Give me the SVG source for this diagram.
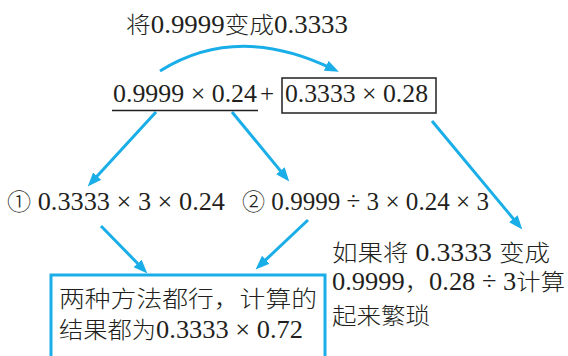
<svg xmlns="http://www.w3.org/2000/svg" width="568" height="356" viewBox="0 0 568 356">
<defs>
<style>
.t{font-family:"Liberation Serif","Times New Roman","DejaVu Serif",serif;font-size:25px;fill:#231f20}
.c{font-family:"Noto Sans CJK SC","Noto Sans CJK JP",sans-serif;font-weight:300;font-size:23px}
.a{fill:none;stroke:#1aaee8;stroke-width:3}
</style>
<marker id="ah" markerUnits="userSpaceOnUse" markerWidth="15" markerHeight="12" refX="6" refY="5.5" orient="auto">
<path d="M0,0 L14,5.5 L0,11 z" fill="#1aaee8"/>
</marker>
</defs>
<rect width="568" height="356" fill="#fff"/>
<g id="connectors">
<path class="a" d="M160,71 Q237,23 331.6,68.4" marker-end="url(#ah)"/>
<line class="a" x1="156" y1="112" x2="93.1" y2="180.6" marker-end="url(#ah)"/>
<line class="a" x1="232" y1="112" x2="284.2" y2="175.4" marker-end="url(#ah)"/>
<line class="a" x1="432" y1="121" x2="517.2" y2="223.4" marker-end="url(#ah)"/>
<line class="a" x1="101" y1="226" x2="141.8" y2="267.7" marker-end="url(#ah)"/>
<line class="a" x1="308" y1="220" x2="261.4" y2="263.9" marker-end="url(#ah)"/>
</g>
<g id="label-top">
<text class="t" x="126" y="33" textLength="222" lengthAdjust="spacingAndGlyphs"><tspan class="c">将</tspan>0.9999<tspan class="c">变成</tspan>0.3333</text>
</g>
<g id="expr">
<text class="t" x="113" y="102" textLength="144" lengthAdjust="spacingAndGlyphs">0.9999 × 0.24</text>
<line x1="112" y1="110.5" x2="258" y2="110.5" stroke="#231f20" stroke-width="1.5"/>
<text class="t" x="267" y="102" text-anchor="middle">+</text>
</g>
<g id="boxed">
<rect x="282" y="78" width="154" height="35" fill="none" stroke="#231f20" stroke-width="1.5"/>
<text class="t" x="285" y="102" textLength="143" lengthAdjust="spacingAndGlyphs">0.3333 × 0.28</text>
</g>
<g id="method1">
<text class="t" x="7" y="210" textLength="218" lengthAdjust="spacingAndGlyphs"><tspan class="c">①</tspan> 0.3333 × 3 × 0.24</text>
</g>
<g id="method2">
<text class="t" x="242" y="210" textLength="247" lengthAdjust="spacingAndGlyphs"><tspan class="c">②</tspan> 0.9999 ÷ 3 × 0.24 × 3</text>
</g>
<g id="result">
<rect x="51" y="275" width="274" height="100" fill="none" stroke="#1aaee8" stroke-width="3"/>
<text class="t c" x="59" y="307" textLength="258" lengthAdjust="spacingAndGlyphs">两种方法都行，计算的</text>
<text class="t" x="59" y="338" textLength="244" lengthAdjust="spacingAndGlyphs"><tspan class="c">结果都为</tspan>0.3333 × 0.72</text>
</g>
<g id="note">
<text class="t" x="332" y="261" textLength="218" lengthAdjust="spacingAndGlyphs"><tspan class="c">如果将</tspan> 0.3333 <tspan class="c">变成</tspan></text>
<text class="t" x="332" y="290" textLength="233" lengthAdjust="spacingAndGlyphs">0.9999<tspan class="c">，</tspan>0.28 ÷ 3<tspan class="c">计算</tspan></text>
<text class="t c" x="332" y="324" textLength="98" lengthAdjust="spacingAndGlyphs">起来繁琐</text>
</g>
</svg>
